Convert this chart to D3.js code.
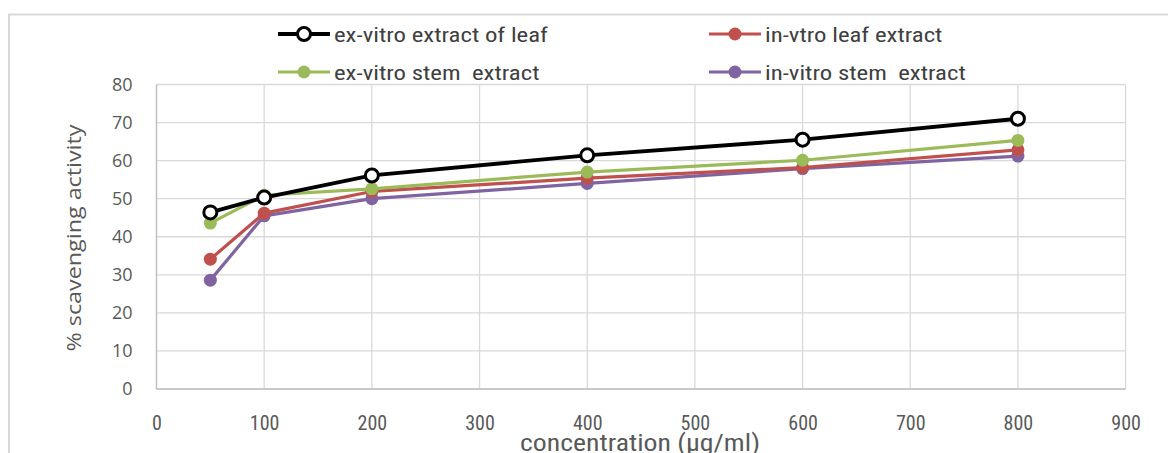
<!DOCTYPE html>
<html>
<head>
<meta charset="utf-8">
<script src="https://cdn.jsdelivr.net/npm/d3@7/dist/d3.min.js"></script>
<style>
html,body{margin:0;padding:0;background:#fff;}
svg{display:block;}
</style>
</head>
<body>
<svg id="chart" width="1168" height="453"></svg>
<script>
const concentrations = [50, 100, 200, 400, 600, 800];
const exVitroLeaf = [46.4, 50.3, 56.1, 61.4, 65.5, 71.0];
const inVitroLeaf = [34.1, 46.2, 51.9, 55.4, 58.2, 62.8];
const exVitroStem = [43.6, 50.9, 52.6, 57.0, 60.1, 65.3];
const inVitroStem = [28.6, 45.5, 50.0, 54.0, 57.9, 61.2];
const xTicks = [0, 100, 200, 300, 400, 500, 600, 700, 800, 900];
const yTicks = [0, 10, 20, 30, 40, 50, 60, 70, 80];
const seriesNames = ["ex-vitro extract of leaf", "in-vtro leaf extract", "ex-vitro stem  extract", "in-vitro stem  extract"];
const seriesColors = ["#000000", "#c0504d", "#9bbb59", "#8064a2"];

const series = [
  {name: seriesNames[0], color: seriesColors[0], values: exVitroLeaf, hollow: true},
  {name: seriesNames[1], color: seriesColors[1], values: inVitroLeaf, hollow: false},
  {name: seriesNames[2], color: seriesColors[2], values: exVitroStem, hollow: false},
  {name: seriesNames[3], color: seriesColors[3], values: inVitroStem, hollow: false}
];

const svg = d3.select("#chart");
const font = "'Liberation Sans Narrow', 'Arial Narrow', 'Roboto Condensed', 'Liberation Sans', sans-serif";

function stretch(sel, factor) {
  sel.each(function() {
    const w = this.getComputedTextLength();
    d3.select(this).attr("textLength", w * factor).attr("lengthAdjust", "spacingAndGlyphs");
  });
}

// outer chart border
svg.append("path")
  .attr("d", "M9,453 L9,14.5 L1168,14.5")
  .attr("fill", "none").attr("stroke", "#d9d9d9").attr("stroke-width", 2);

const x = d3.scaleLinear().domain([0, 900]).range([156.5, 1125.6]);
const y = d3.scaleLinear().domain([0, 80]).range([389, 84.5]);

// gridlines
const grid = svg.append("g");
grid.selectAll(".hg").data(yTicks).enter().append("line")
  .attr("x1", x(0)).attr("x2", x(900))
  .attr("y1", d => y(d)).attr("y2", d => y(d))
  .attr("stroke", "#d9d9d9").attr("stroke-width", 1.3);
grid.selectAll(".vg").data(xTicks).enter().append("line")
  .attr("y1", y(0)).attr("y2", y(80))
  .attr("x1", d => x(d)).attr("x2", d => x(d))
  .attr("stroke", "#d9d9d9").attr("stroke-width", 1.3);

// axis lines
svg.append("line").attr("x1", x(0)).attr("x2", x(0)).attr("y1", y(0)).attr("y2", y(80))
  .attr("stroke", "#bfbfbf").attr("stroke-width", 1.3);
svg.append("line").attr("x1", x(0)).attr("x2", x(900)).attr("y1", y(0)).attr("y2", y(0))
  .attr("stroke", "#bfbfbf").attr("stroke-width", 1.3);

// axes tick labels via d3 axes
const yAxis = d3.axisLeft(y).tickValues(yTicks).tickSize(0).tickPadding(24);
const gy = svg.append("g").attr("transform", `translate(${x(0)},0)`).call(yAxis);
gy.select(".domain").remove();
gy.selectAll("text").attr("fill", "#595959").style("font-family", "'Open Sans', 'DejaVu Sans', sans-serif").style("font-size", "18px");

const xAxis = d3.axisBottom(x).tickValues(xTicks).tickSize(0).tickPadding(27);
const gx = svg.append("g").attr("transform", `translate(0,${y(0)})`).call(xAxis);
gx.select(".domain").remove();
gx.selectAll("text").attr("fill", "#595959").style("font-family", font).style("font-size", "20px");

// axis titles
svg.append("text")
  .attr("transform", `translate(81,238) rotate(-90)`)
  .attr("text-anchor", "middle")
  .attr("fill", "#595959")
  .style("font-family", "'Open Sans', 'DejaVu Sans', sans-serif")
  .style("font-size", "20px")
  .text("% scavenging activity")
  .call(s => s.attr("textLength", 227).attr("lengthAdjust", "spacingAndGlyphs"));

svg.append("text")
  .attr("x", 640).attr("y", 451)
  .attr("text-anchor", "middle")
  .attr("fill", "#595959")
  .style("font-family", font)
  .style("font-size", "23px")
  .text("concentration (µg/ml)")
  .call(s => s.attr("textLength", 240).attr("lengthAdjust", "spacingAndGlyphs"));

// lines
const line = d3.line().x((d, i) => x(concentrations[i])).y(d => y(d));
const order = [3, 1, 2, 0];
order.forEach(si => {
  const s = series[si];
  svg.append("path").datum(s.values)
    .attr("d", line)
    .attr("fill", "none")
    .attr("stroke", s.color)
    .attr("stroke-width", s.hollow ? 3.8 : 3.2)
    .attr("stroke-linejoin", "round");
  svg.selectAll(null).data(s.values).enter().append("circle")
    .attr("cx", (d, i) => x(concentrations[i]))
    .attr("cy", d => y(d))
    .attr("r", 6.5)
    .attr("fill", s.hollow ? "#ffffff" : s.color)
    .attr("stroke", s.color)
    .attr("stroke-width", s.hollow ? 3 : 0);
});

// legend
const legendPos = [
  {lx: 278, ly: 34},
  {lx: 709, ly: 34},
  {lx: 278, ly: 72},
  {lx: 709, ly: 72}
];
series.forEach((s, i) => {
  const p = legendPos[i];
  const g = svg.append("g").attr("transform", `translate(${p.lx},${p.ly})`);
  g.append("line").attr("x1", 0).attr("x2", 52).attr("y1", 0).attr("y2", 0)
    .attr("stroke", s.color).attr("stroke-width", s.hollow ? 3.8 : 3.2);
  g.append("circle").attr("cx", 26).attr("cy", 0).attr("r", 6.5)
    .attr("fill", s.hollow ? "#fff" : s.color)
    .attr("stroke", s.color).attr("stroke-width", s.hollow ? 3 : 0);
  g.append("text").attr("x", 56).attr("y", 0).attr("dy", "0.36em")
    .attr("fill", "#404040")
    .style("font-family", font)
    .style("font-size", "21px")
    .style("white-space", "pre")
    .attr("xml:space", "preserve")
    .text(s.name)
    .call(stretch, 1.18);
});
</script>
</body>
</html>
